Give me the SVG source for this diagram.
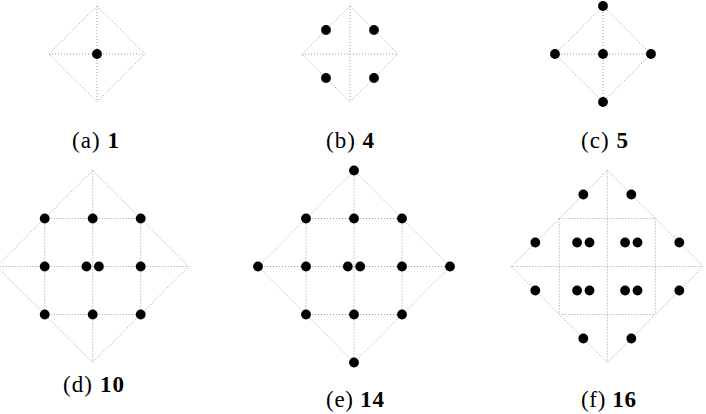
<svg xmlns="http://www.w3.org/2000/svg" xmlns:xlink="http://www.w3.org/1999/xlink" width="706" height="414" viewBox="0 0 706 414">
<style>
.g{fill:none;stroke:#9a9a9a;stroke-width:1;stroke-dasharray:1 2;}
.lbl{font-family:"Liberation Serif","Times New Roman",serif;font-size:23px;fill:#000;text-anchor:middle;}
.b{font-weight:bold;}
</style>
<defs>
<circle id="dot" r="4.9" fill="#000"/>
</defs>
<rect width="706" height="414" fill="#fff"/>
<g id="fig-a">
<polygon class="g" points="97,6 145,54 97,102 49,54"/>
<path class="g" d="M49 54H145M97 6V102"/>
<use href="#dot" x="97" y="54"/>
<text class="lbl" x="95.5" y="148" textLength="47" lengthAdjust="spacing">(a) <tspan class="b">1</tspan></text>
</g>
<g id="fig-b">
<polygon class="g" points="350,6 398,54 350,102 302,54"/>
<path class="g" d="M302 54H398M350 6V102"/>
<use href="#dot" x="326" y="30"/>
<use href="#dot" x="374" y="30"/>
<use href="#dot" x="326" y="78"/>
<use href="#dot" x="374" y="78"/>
<text class="lbl" x="350" y="148" textLength="48" lengthAdjust="spacing">(b) <tspan class="b">4</tspan></text>
</g>
<g id="fig-c">
<polygon class="g" points="603,6 651,54 603,102 555,54"/>
<path class="g" d="M555 54H651M603 6V102"/>
<use href="#dot" x="603" y="6"/>
<use href="#dot" x="555" y="54"/>
<use href="#dot" x="603" y="54"/>
<use href="#dot" x="651" y="54"/>
<use href="#dot" x="603" y="102"/>
<text class="lbl" x="604.5" y="148" textLength="47" lengthAdjust="spacing">(c) <tspan class="b">5</tspan></text>
</g>
<g id="fig-d">
<polygon class="g" points="92.7,170.5 188.7,266.5 92.7,362.5 -3.3,266.5"/>
<path class="g" d="M-3.3 266.5H188.7M92.7 170.5V362.5M44.7 218.5H140.7M44.7 314.5H140.7M44.7 218.5V314.5M140.7 218.5V314.5"/>
<use href="#dot" x="44.7" y="218.5"/>
<use href="#dot" x="92.7" y="218.5"/>
<use href="#dot" x="140.7" y="218.5"/>
<use href="#dot" x="44.7" y="266.5"/>
<use href="#dot" x="86.5" y="266.5"/>
<use href="#dot" x="98.9" y="266.5"/>
<use href="#dot" x="140.7" y="266.5"/>
<use href="#dot" x="44.7" y="314.5"/>
<use href="#dot" x="92.7" y="314.5"/>
<use href="#dot" x="140.7" y="314.5"/>
<text class="lbl" x="93.5" y="392" textLength="61" lengthAdjust="spacing">(d) <tspan class="b">10</tspan></text>
</g>
<g id="fig-e">
<polygon class="g" points="354,170.5 450,266.5 354,362.5 258,266.5"/>
<path class="g" d="M258 266.5H450M354 170.5V362.5M306 218.5H402M306 314.5H402M306 218.5V314.5M402 218.5V314.5"/>
<use href="#dot" x="354" y="170.5"/>
<use href="#dot" x="258" y="266.5"/>
<use href="#dot" x="450" y="266.5"/>
<use href="#dot" x="354" y="362.5"/>
<use href="#dot" x="306" y="218.5"/>
<use href="#dot" x="354" y="218.5"/>
<use href="#dot" x="402" y="218.5"/>
<use href="#dot" x="306" y="266.5"/>
<use href="#dot" x="347.8" y="266.5"/>
<use href="#dot" x="360.2" y="266.5"/>
<use href="#dot" x="402" y="266.5"/>
<use href="#dot" x="306" y="314.5"/>
<use href="#dot" x="354" y="314.5"/>
<use href="#dot" x="402" y="314.5"/>
<text class="lbl" x="355" y="407" textLength="58" lengthAdjust="spacing">(e) <tspan class="b">14</tspan></text>
</g>
<g id="fig-f">
<polygon class="g" points="607.3,170.5 703.3,266.5 607.3,362.5 511.3,266.5"/>
<path class="g" d="M511.3 266.5H703.3M607.3 170.5V362.5M559.3 218.5H655.3M559.3 314.5H655.3M559.3 218.5V314.5M655.3 218.5V314.5"/>
<use href="#dot" x="583.3" y="194.5"/>
<use href="#dot" x="631.3" y="194.5"/>
<use href="#dot" x="535.3" y="242.5"/>
<use href="#dot" x="679.3" y="242.5"/>
<use href="#dot" x="535.3" y="290.5"/>
<use href="#dot" x="679.3" y="290.5"/>
<use href="#dot" x="583.3" y="338.5"/>
<use href="#dot" x="631.3" y="338.5"/>
<use href="#dot" x="577.1" y="242.5"/>
<use href="#dot" x="589.5" y="242.5"/>
<use href="#dot" x="625.1" y="242.5"/>
<use href="#dot" x="637.5" y="242.5"/>
<use href="#dot" x="577.1" y="290.5"/>
<use href="#dot" x="589.5" y="290.5"/>
<use href="#dot" x="625.1" y="290.5"/>
<use href="#dot" x="637.5" y="290.5"/>
<text class="lbl" x="608.5" y="407" textLength="55" lengthAdjust="spacing">(f) <tspan class="b">16</tspan></text>
</g>
</svg>
